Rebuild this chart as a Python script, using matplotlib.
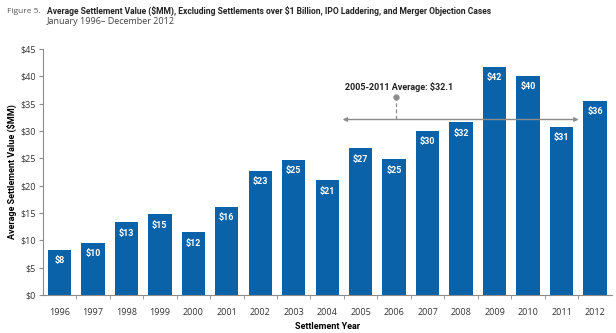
import matplotlib
matplotlib.use("Agg")
import matplotlib.pyplot as plt
from matplotlib import font_manager

years = [1996, 1997, 1998, 1999, 2000, 2001, 2002, 2003, 2004,
         2005, 2006, 2007, 2008, 2009, 2010, 2011, 2012]
values = [8.3, 9.6, 13.3, 14.8, 11.5, 16.1, 22.7, 24.7, 21.0,
          26.8, 24.8, 30.0, 31.6, 41.7, 40.1, 30.8, 35.5]
labels = ["$8", "$10", "$13", "$15", "$12", "$16", "$23", "$25", "$21",
          "$27", "$25", "$30", "$32", "$42", "$40", "$31", "$36"]
yticks = [0, 5, 10, 15, 20, 25, 30, 35, 40, 45]
avg_value = 32.1
avg_label = "2005-2011 Average: $32.1"
title = "Average Settlement Value ($MM), Excluding Settlements over $1 Billion, IPO Laddering, and Merger Objection Cases"
subtitle = "January 1996\u2013 December 2012"

plt.rcParams["text.parse_math"] = False

names = {f.name for f in font_manager.fontManager.ttflist}
bold_font = "Roboto" if "Roboto" in names else "DejaVu Sans"
body = "Open Sans" if "Open Sans" in names else "DejaVu Sans"

BLUE = "#0a63a8"
GREY = "#8c8c8c"

fig = plt.figure(figsize=(6.16, 3.33), dpi=100)
ax = fig.add_axes([0.0692, 0.114, 0.924, 0.739])

x = list(range(len(years)))
ax.bar(x, values, width=0.70, color=BLUE, zorder=2)

for xi, v, lab in zip(x, values, labels):
    ax.text(xi, v - 2.0, lab, ha="center", va="center", color="white",
            fontsize=6.5, fontweight="bold", family=bold_font, zorder=3)

ax.set_xlim(-0.5, len(years) - 0.5)
ax.set_ylim(0, 45)
ax.set_yticks(yticks)
ax.set_yticklabels([f"${t}" for t in yticks], family=body, fontsize=6.5, color="#333333")
ax.set_xticks(x)
ax.set_xticklabels([str(y) for y in years], family=body, fontsize=6.5, color="#333333")
ax.set_xticks([i + 0.5 for i in x[:-1]], minor=True)
ax.tick_params(axis="x", which="major", length=0, pad=9)
ax.tick_params(axis="x", which="minor", length=3, color=GREY, direction="out")
ax.tick_params(axis="y", length=3, color=GREY, pad=2)

for s in ["top", "right"]:
    ax.spines[s].set_visible(False)
for s in ["left", "bottom"]:
    ax.spines[s].set_color(GREY)
    ax.spines[s].set_linewidth(0.8)

ax.set_xlabel("Settlement Year", family=bold_font, fontweight="bold", fontsize=6.5, labelpad=4)
ax.set_ylabel("Average Settlement Value ($MM)", family=bold_font, fontweight="bold", fontsize=6.5, labelpad=2)

# average annotation across 2005-2011
ax.annotate("", xy=(8.46, avg_value), xytext=(15.51, avg_value),
            arrowprops=dict(arrowstyle="<|-|>", color=GREY, lw=1.0,
                            mutation_scale=6, shrinkA=0, shrinkB=0), zorder=4)
ax.plot([10.04, 10.04], [avg_value, 36.2], ls=(0, (3, 2)), color=GREY, lw=0.9, zorder=4)
ax.plot([10.04], [36.2], "o", color=GREY, ms=3.5, zorder=4)
ax.text(8.53, 38.0, avg_label, ha="left", va="center", fontsize=6.5,
        fontweight="bold", family=bold_font, color="#222222")

fig.text(0.012, 0.966, "Figure 5.", family=body, fontsize=6, color="#555555", va="center")
t = fig.text(0.076, 0.966, title, family=bold_font, fontweight="bold", fontsize=7,
             color="#222222", va="center")
fig.text(0.076, 0.935, subtitle, family=body, fontsize=6.5, color="#444444", va="center")

# fit the title to its line width
fig.canvas.draw()
w = t.get_window_extent().width
t.set_fontsize(7 * 448.0 / w)

fig.savefig("out.png", dpi=100)
